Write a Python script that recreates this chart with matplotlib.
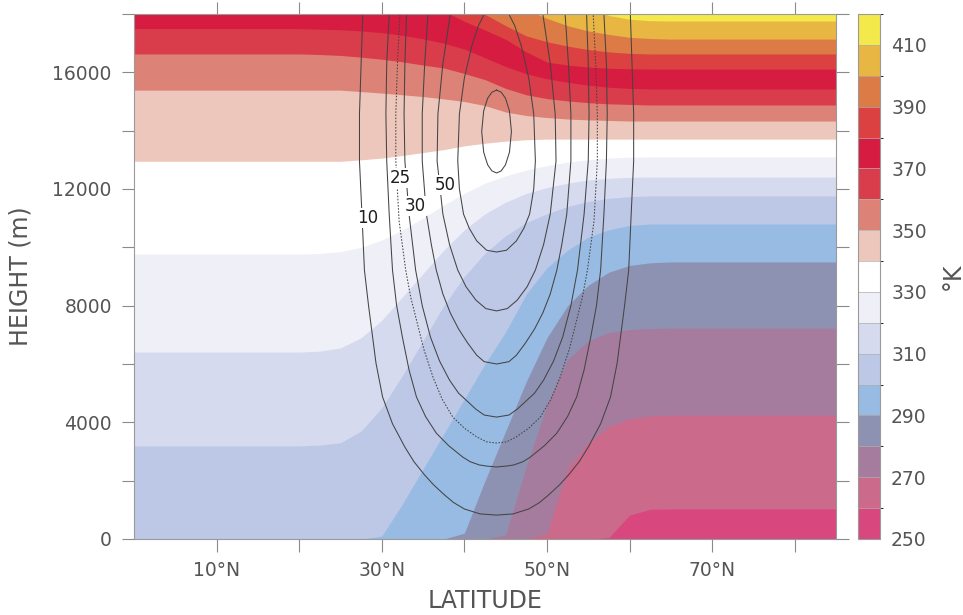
import numpy as np
import matplotlib
matplotlib.use("Agg")
import matplotlib.pyplot as plt
from matplotlib.colors import ListedColormap, BoundaryNorm
from matplotlib.cm import ScalarMappable

# potential temperature bands (K), one colour per 10 K band
theta_edges = list(range(250, 430, 10))
band_colors = ["#d9477f", "#cc6a8c", "#a67c9e", "#8e92b2", "#98bbe3",
               "#bcc8e6", "#d5daee", "#eff0f7", "#ffffff", "#edc7bb",
               "#dd8276", "#d93d4c", "#d61c40", "#da4140", "#dd7b46",
               "#e8b642", "#f3e94a"]

# isentrope heights (m) at these latitudes, theta = 260 ... 410 K
lat_pts = [0, 15, 20, 22.5, 25, 27.5, 30, 32.5, 35, 37.5, 40, 42.5, 45,
           47.5, 50, 52.5, 55, 57.5, 60, 62.5, 65, 70, 85]
z260 = [0, 0, 0, 0, 0, 0, 0, 0, 0, 0, 0, 0, 0,
        0, 0, 0, 0, 50, 820, 1020, 1030, 1030, 1030]
z270 = [0, 0, 0, 0, 0, 0, 0, 0, 0, 0, 0, 0, 0,
        0, 200, 2400, 3300, 3850, 4120, 4220, 4250, 4250, 4250]
z280 = [0, 0, 0, 0, 0, 0, 0, 0, 0, 0, 0, 0, 150,
        2500, 4600, 6150, 6800, 7080, 7180, 7220, 7230, 7230, 7230]
z290 = [0, 0, 0, 0, 0, 0, 0, 0, 0, 0, 200, 2000, 3700,
        5400, 6900, 8000, 8700, 9150, 9380, 9470, 9500, 9500, 9500]
z300 = [0, 0, 0, 0, 0, 0, 100, 1200, 2400, 3600, 4800, 6000, 7100,
        8400, 9300, 9900, 10350, 10600, 10750, 10800, 10800, 10800, 10800]
z310 = [3190, 3190, 3190, 3220, 3300, 3700, 4500, 5600, 6800, 8000, 9000, 9800, 10400,
        10850, 11150, 11400, 11570, 11680, 11740, 11760, 11760, 11760, 11760]
z320 = [6410, 6410, 6410, 6440, 6550, 6900, 7500, 8300, 9100, 9900, 10600, 11150, 11550,
        11850, 12050, 12200, 12310, 12370, 12400, 12410, 12410, 12410, 12410]
z330 = [9770, 9770, 9770, 9790, 9850, 10000, 10250, 10600, 11000, 11450, 11850, 12200, 12450,
        12650, 12800, 12920, 13000, 13060, 13090, 13100, 13100, 13100, 13100]
z340 = [12950, 12950, 12950, 12950, 12950, 13000, 13060, 13150, 13250, 13350, 13480, 13570, 13640,
        13690, 13710, 13710, 13710, 13710, 13710, 13710, 13710, 13710, 13710]
z350 = [15390, 15390, 15390, 15390, 15390, 15340, 15290, 15230, 15170, 15090, 15000, 14860, 14640,
        14520, 14450, 14400, 14370, 14350, 14330, 14330, 14330, 14330, 14330]
z360 = [16630, 16630, 16630, 16610, 16580, 16520, 16450, 16360, 16250, 16150, 15960, 15750, 15450,
        15230, 15100, 15020, 14960, 14920, 14900, 14880, 14880, 14880, 14880]
z370 = [17500, 17500, 17500, 17480, 17460, 17420, 17360, 17270, 17150, 17000, 16800, 16500, 16200,
        15950, 15780, 15660, 15560, 15490, 15450, 15430, 15430, 15430, 15430]
z380 = [18500, 18500, 18500, 18500, 18500, 18500, 18500, 18420, 18300, 18100, 17750, 17450, 17130,
        16700, 16350, 16250, 16180, 16140, 16120, 16110, 16110, 16110, 16110]
z390 = [19000, 19000, 19000, 19000, 19000, 19000, 19000, 19000, 19000, 19000, 18400, 17990, 17600,
        17250, 17050, 16900, 16780, 16700, 16650, 16630, 16630, 16630, 16630]
z400 = [19500, 19500, 19500, 19500, 19500, 19500, 19500, 19500, 19500, 19500, 19500, 19500, 18600,
        18150, 17850, 17600, 17420, 17300, 17200, 17160, 17140, 17140, 17140]
z410 = [20000, 20000, 20000, 20000, 20000, 20000, 20000, 20000, 20000, 20000, 20000, 20000, 20000,
        20000, 20000, 18800, 18250, 17950, 17820, 17770, 17760, 17760, 17760]
isentropes = [z260, z270, z280, z290, z300, z310, z320, z330,
              z340, z350, z360, z370, z380, z390, z400, z410]

# jet wind speed contours (m/s): height (m) and half-width (deg) about the jet axis
jet_lat = 43.9
jet10_z = [820, 860, 1030, 1250, 1510, 1850, 2190, 2650, 3150, 3950, 4870, 6030,
           8000, 9220, 11140, 12960, 14570, 16300, 18000, 18600]
jet10_hw = [0, 2.0, 3.9, 5.2, 6.3, 7.6, 8.7, 10.0, 11.1, 12.6, 13.8, 14.6,
            15.5, 16.0, 16.3, 16.6, 16.6, 16.4, 16.2, 16.0]
jet20_z = [2470, 2500, 2540, 2650, 2810, 3200, 3630, 4200, 4870, 5800, 6920, 8000,
           9220, 11140, 12960, 14570, 16300, 18000, 18600]
jet20_hw = [0, 1.2, 2.1, 3.2, 4.1, 5.8, 7.3, 8.6, 9.7, 10.6, 11.4, 12.1,
            12.6, 13.0, 13.3, 13.4, 13.3, 13.0, 12.8]
jet25_z = [3290, 3330, 3500, 3800, 4180, 4800, 5550, 6500, 7510, 8300, 9220, 10900,
           12960, 14570, 16300, 18000, 18600]
jet25_hw = [0, 1.2, 2.4, 3.9, 5.3, 6.6, 7.7, 8.8, 9.7, 10.4, 11.0, 11.8,
            12.2, 12.2, 12.0, 11.7, 11.5]
jet30_z = [4180, 4250, 4450, 4660, 5000, 5450, 6100, 6920, 8000, 9220, 11140, 12960,
           14570, 16300, 18000, 18600]
jet30_hw = [0, 1.5, 2.5, 3.3, 4.6, 5.7, 6.9, 8.0, 9.0, 9.8, 10.6, 11.1,
            11.2, 11.1, 10.9, 10.7]
jet40_z = [6000, 6080, 6300, 6720, 7200, 7750, 8400, 9220, 10100, 11140, 12960, 14570,
           16300, 18000, 18600]
jet40_hw = [0, 1.5, 2.4, 3.5, 4.6, 5.6, 6.5, 7.3, 7.9, 8.5, 9.0, 9.0,
            8.7, 8.3, 8.0]
jet50_z = [7820, 7900, 8190, 8650, 9220, 10100, 11140, 12960, 14570, 16300, 18000, 18600]
jet50_hw = [0, 1.3, 2.5, 3.7, 4.7, 5.7, 6.5, 7.2, 7.1, 6.5, 5.6, 5.1]
jet60_z = [9840, 9900, 10220, 10650, 11140, 12000, 12960, 14570, 15800, 16900, 17600,
           18100, 18300]
jet60_hw = [0, 1.2, 2.4, 3.3, 4.0, 4.5, 4.7, 4.5, 3.9, 3.0, 2.2, 1.3, 0]
jet70_z = [12550, 12620, 12830, 13260, 13970, 14680, 15110, 15320, 15390]
jet70_hw = [0, 0.56, 1.08, 1.56, 1.8, 1.56, 1.08, 0.56, 0]
jet_lines = [(jet10_z, jet10_hw, "-"), (jet20_z, jet20_hw, "-"),
             (jet25_z, jet25_hw, (0, (1.5, 1.5))), (jet30_z, jet30_hw, "-"),
             (jet40_z, jet40_hw, "-"), (jet50_z, jet50_hw, "-"),
             (jet60_z, jet60_hw, "-"), (jet70_z, jet70_hw, "-")]

# inline labels: value, latitude, height
jet_labels = [("10", 28.3, 11000), ("25", 32.2, 12380),
              ("30", 34.1, 11415), ("50", 37.7, 12135)]

text_color = "#555555"
plt.rcParams["font.family"] = ["DejaVu Sans"]

fig = plt.figure(figsize=(9.63, 6.15), dpi=100)
W, H = 963, 615
ax = fig.add_axes([134 / W, 1 - 539 / H, (836 - 134) / W, (539 - 14) / H])
cax = fig.add_axes([858 / W, 1 - 539 / H, 22 / W, (539 - 14) / H])

# filled bands: paint the top band, then each isentrope downward
ax.fill_between(lat_pts, 0, 21000, color=band_colors[-1], lw=0)
for k in range(len(isentropes) - 1, -1, -1):
    ax.fill_between(lat_pts, 0, isentropes[k], color=band_colors[k], lw=0)

for z, hw, ls in jet_lines:
    z = np.asarray(z)
    hw = np.asarray(hw)
    xs = np.r_[jet_lat - hw[::-1], jet_lat + hw[1:]]
    ys = np.r_[z[::-1], z[1:]]
    ax.plot(xs, ys, color="#444444", lw=0.75, ls=ls, solid_joinstyle="round")

for txt, la, zz in jet_labels:
    ax.text(la, zz, txt, ha="center", va="center", fontsize=12, color="#1e1e1e",
            bbox=dict(boxstyle="square,pad=0.05", fc="white", ec="none"))

ax.set_xlim(0, 85)
ax.set_ylim(0, 18000)
ax.set_xticks(range(10, 90, 10))
ax.set_xticklabels([f"{v}°N" if v % 20 == 10 else "" for v in range(10, 90, 10)])
ax.set_yticks(range(0, 18001, 2000))
ax.set_yticklabels([str(v) if v % 4000 == 0 else "" for v in range(0, 18001, 2000)])
ax.tick_params(direction="out", length=9, width=0.8, color="#8a8a8a",
               top=True, right=True, labelsize=13.5, labelcolor=text_color, pad=7)
for sp in ax.spines.values():
    sp.set_color("#9a9a9a")
    sp.set_linewidth(0.8)

ax.set_xlabel("LATITUDE", fontsize=17, color=text_color, labelpad=6)
ax.set_ylabel("HEIGHT (m)", fontsize=17, color=text_color, labelpad=14)

cmap = ListedColormap(band_colors)
norm = BoundaryNorm(theta_edges, cmap.N)
cb = fig.colorbar(ScalarMappable(norm=norm, cmap=cmap), cax=cax,
                  ticks=list(range(250, 420, 20)), drawedges=True)
cb.outline.set_edgecolor("#9a9a9a")
cb.outline.set_linewidth(0.8)
cb.dividers.set_color("#b0b0b0")
cb.dividers.set_linewidth(0.5)
cax.tick_params(length=0, labelsize=13.5, labelcolor=text_color, pad=8)
cb.set_label("°K", fontsize=17, color=text_color, rotation=90, labelpad=10)

fig.savefig("out.png", dpi=100)
